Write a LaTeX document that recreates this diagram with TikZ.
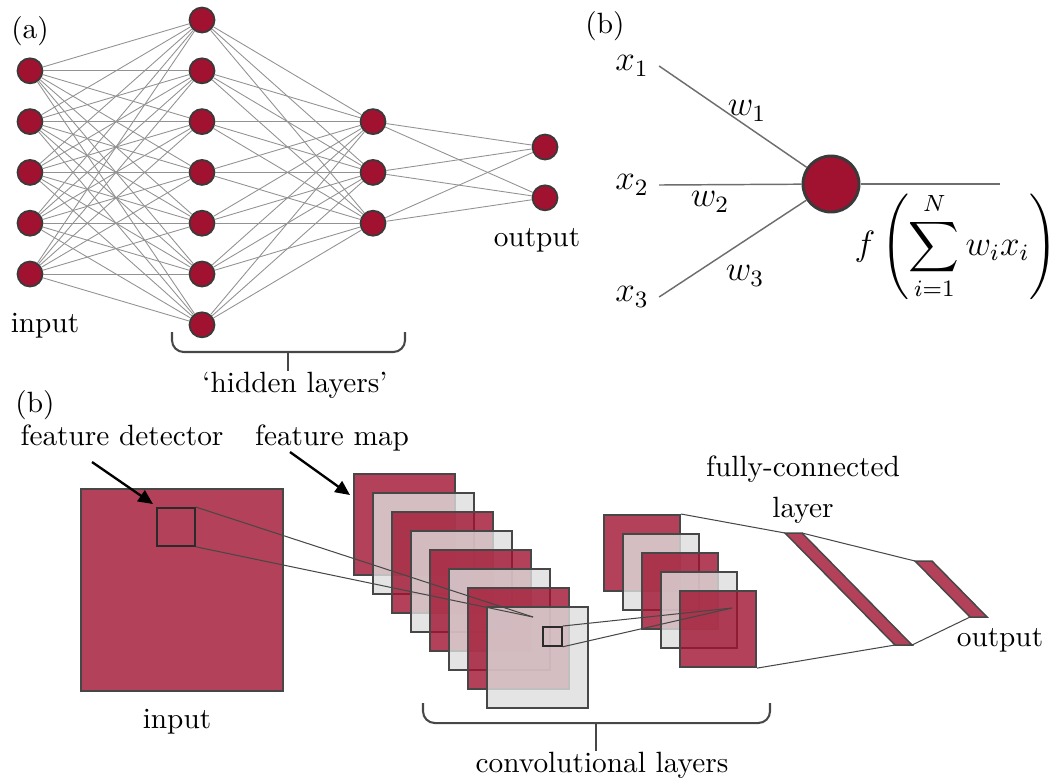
\documentclass[tikz,border=0pt]{standalone}
\usepackage{amsmath,amssymb}
\usepackage{tikz}
\usetikzlibrary{arrows.meta}
\usepackage{xcolor}
\definecolor{nnred}{HTML}{A0122F}
\definecolor{neuronline}{HTML}{3A3A3A}
\definecolor{nnedge}{HTML}{929292}
\definecolor{wiregray}{HTML}{6E6E6E}
\definecolor{mapgray}{HTML}{DDDDDD}
\definecolor{mapline}{HTML}{474747}
\definecolor{kernline}{HTML}{2A2A2A}

\begin{document}
\begin{tikzpicture}[
    x=0.012cm, y=-0.012cm,
    neuron/.style={circle, draw=neuronline, fill=nnred, line width=0.6pt, minimum size=0.3cm, inner sep=0pt},
    edge/.style={draw=nnedge, line width=0.3pt},
    wire/.style={draw=wiregray, line width=0.5pt},
    fmap/.style={rectangle, draw=mapline, line width=0.7pt, inner sep=0pt, anchor=north west, minimum size=1.212cm},
    pmap/.style={fmap, minimum size=0.912cm},
    redmap/.style={fill=nnred, fill opacity=0.8},
    graymap/.style={fill=mapgray, fill opacity=0.8},
    kbox/.style={rectangle, draw=kernline, line width=0.6pt, inner sep=0pt, anchor=north west},
    link/.style={draw=mapline, line width=0.35pt},
    bar/.style={draw=mapline, line width=0.5pt, fill=nnred, fill opacity=0.8},
    brace/.style={draw=mapline, line width=0.7pt, rounded corners=4pt},
    ptr/.style={-{Triangle[length=5pt,width=4.5pt]}, line width=0.8pt, black}
]
\useasboundingbox (0,0) rectangle (1062,780);

% (a) layered network
\foreach \i in {1,...,5} \node[neuron] (in\i) at (30,{70.8+50.8*(\i-1)}) {};
\foreach \j in {1,...,7} \node[neuron] (h\j) at (202,{20+50.8*(\j-1)}) {};
\foreach \k in {1,2,3} \node[neuron] (g\k) at (373,{121.6+50.8*(\k-1)}) {};
\node[neuron] (o1) at (545,147) {};
\node[neuron] (o2) at (545,197.8) {};
\foreach \i in {1,...,5} \foreach \j in {1,...,7} \draw[edge] (in\i) -- (h\j);
\foreach \j in {1,...,7} \foreach \k in {1,2,3} \draw[edge] (h\j) -- (g\k);
\foreach \k in {1,2,3} \foreach \m in {1,2} \draw[edge] (g\k) -- (o\m);

\node (lbla) at (30,31) {(a)};
\node (inlbl) at (45,326) {input};
\node (outlbl) at (537,240) {output};
\node[inner sep=0pt] (hidlbl) at (295,385) {`hidden layers'};
\draw[brace] (172,332) -- (172,352) -- (405,352) -- (405,332);
\coordinate (hbr) at (288,352);
\draw[brace] (hbr) -- (hbr |- hidlbl.north);

% (b) single neuron
\node (lblb) at (605,26) {(b)};
\node[neuron, line width=1pt, minimum size=0.672cm] (nb) at (831,184) {};
\node[font=\large] (x1) at (632,66) {$x_1$};
\node[font=\large] (x2) at (632,185) {$x_2$};
\node[font=\large] (x3) at (632,297) {$x_3$};
\coordinate (nbout) at (1000,184);
\draw[wire] (x1.east) -- (nb);
\draw[wire] (x2.east) -- (nb);
\draw[wire] (x3.east) -- (nb);
\draw[wire] (nb) -- (nbout);
\node[font=\large] (w1) at (747,111) {$w_1$};
\node[font=\large] (w2) at (710,202) {$w_2$};
\node[font=\large] (w3) at (745,276) {$w_3$};
\node[font=\large] (fsum) at (956,246) {$\displaystyle f\left(\sum_{i=1}^{N} w_i x_i\right)$};

% (b) convolutional network
\node (lblc) at (35,405) {(b)};
\node[fmap, redmap, minimum size=2.424cm] (inmap) at (80,488) {};
\node[kbox, minimum size=0.456cm] (det) at (156,507) {};
\foreach \k/\kind in {0/redmap,1/graymap,2/redmap,3/graymap,4/redmap,5/graymap,6/redmap,7/graymap}
    \node[fmap, \kind] (fm\k) at ({353+19*\k},{473+19*\k}) {};
\node[kbox, minimum size=0.228cm] (kernel) at (542,626) {};
\coordinate (pfocus) at (533,617);
\draw[link] (det.north east) -- (pfocus);
\draw[link] (det.south east) -- (pfocus);

\foreach \k/\kind in {0/redmap,1/graymap,2/redmap,3/graymap,4/redmap}
    \node[pmap, \kind] (pm\k) at ({603+19*\k},{514+19*\k}) {};
\coordinate (qfocus) at (732,608);
\draw[link] (kernel.north east) -- (qfocus);
\draw[link] (kernel.south east) -- (qfocus);

\coordinate (fcA) at (785,533);
\coordinate (fcB) at (802,533);
\coordinate (fcC) at (912,645);
\coordinate (fcD) at (895,645);
\coordinate (oA) at (915,561);
\coordinate (oB) at (932,561);
\coordinate (oC) at (987,617);
\coordinate (oD) at (970,617);
\draw[bar] (fcA) -- (fcB) -- (fcC) -- (fcD) -- cycle;
\draw[bar] (oA) -- (oB) -- (oC) -- (oD) -- cycle;
\draw[link] (pm0.north east) -- (fcA);
\draw[link] (pm4.south east) -- (fcD);
\draw[link] (fcB) -- (oA);
\draw[link] (fcC) -- (oD);

\node (fdlbl) at (122,435) {feature detector};
\node (fmlbl) at (332,438) {feature map};
\node (cinlbl) at (177,722) {input};
\node[align=center] (fclbl) at (803,490) {fully-connected\\[2pt]layer};
\node (coutlbl) at (1000,640) {output};
\node[inner sep=0pt] (convlbl) at (602,765) {convolutional layers};
\coordinate (fdtail) at (92,462);
\coordinate (fmtail) at (290,452);
\draw[ptr] (fdtail) -- ([shift={(-3,-3)}]det.north west);
\draw[ptr] (fmtail) -- ([shift={(-3,22)}]fm0.north west);
\draw[brace] (423,703) -- (423,723) -- (770,723) -- (770,703);
\coordinate (cbr) at (596,723);
\draw[brace] (cbr) -- (cbr |- convlbl.north);
\end{tikzpicture}
\end{document}
